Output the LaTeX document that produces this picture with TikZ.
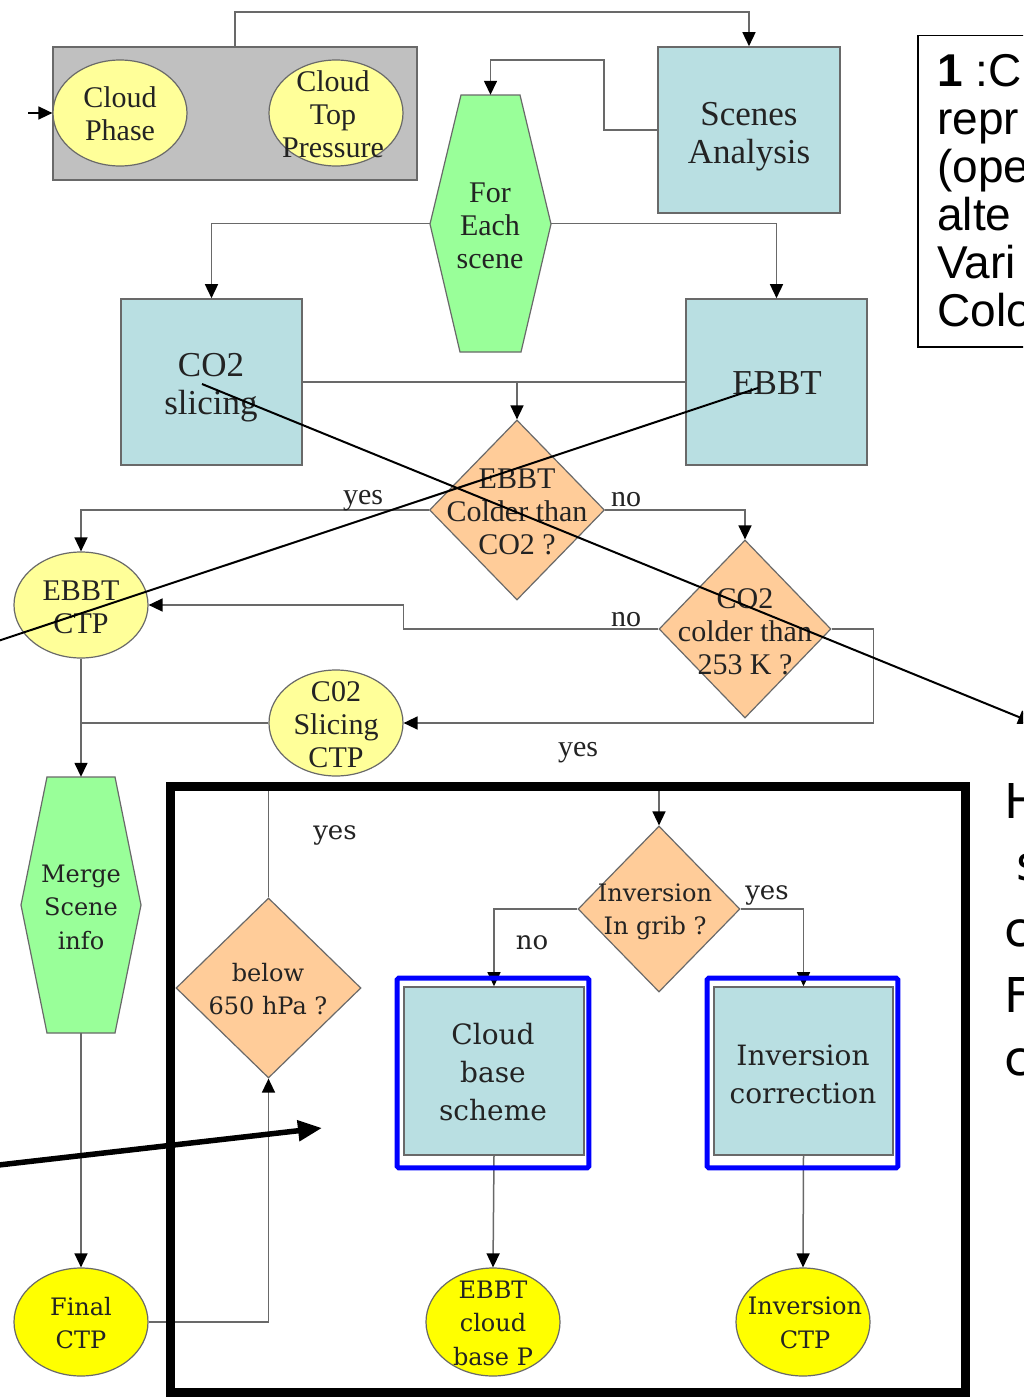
\documentclass[tikz,border=0pt]{standalone}
\usepackage{fontspec}
\setmainfont{Liberation Serif}
\newfontfamily\serifb{DejaVu Serif}
\newfontfamily\sansa{Liberation Sans}
\newfontfamily\sansb{DejaVu Sans}
\usetikzlibrary{shapes.geometric,arrows.meta,calc}

\definecolor{boxblue}{RGB}{185,223,226}
\definecolor{paleyel}{RGB}{255,255,153}
\definecolor{brightyel}{RGB}{255,255,0}
\definecolor{hexgreen}{RGB}{153,255,153}
\definecolor{diaorange}{RGB}{255,204,153}
\definecolor{grpgray}{RGB}{192,192,192}
\definecolor{edgegray}{RGB}{105,105,105}
\definecolor{txtdark}{RGB}{35,35,35}

\tikzset{
  procbox/.style={rectangle, draw=edgegray, fill=boxblue, line width=1.6pt, inner sep=0pt},
  proctext/.style={align=center, text=txtdark, inner sep=0pt, font={\fontsize{35}{38}\selectfont}},
  lowproctext/.style={proctext, font={\serifb\fontsize{28}{38}\selectfont}},
  oval/.style={ellipse, draw=edgegray, fill=paleyel, line width=1.2pt, inner sep=0pt,
    minimum width=134pt, minimum height=106pt},
  brightoval/.style={oval, fill=brightyel, minimum height=108pt},
  decision/.style={diamond, draw=edgegray, fill=diaorange, line width=1.2pt, inner sep=0pt},
  hexpath/.style={draw=edgegray, fill=hexgreen, line width=1.2pt},
  shapetext/.style={align=center, text=txtdark, inner sep=0pt, font={\fontsize{30}{33}\selectfont}},
  lowtext/.style={shapetext, font={\serifb\fontsize{24}{33.5}\selectfont}},
  lbl/.style={text=txtdark, inner sep=0pt, font={\fontsize{30}{34}\selectfont}},
  lowlbl/.style={text=txtdark, inner sep=0pt, font={\serifb\fontsize{26}{30}\selectfont}},
  conn/.style={draw=edgegray, line width=1.5pt, -{Triangle[length=14pt,width=13pt,color=black]}},
  link/.style={draw=edgegray, line width=1.5pt},
  annot/.style={draw=black, line width=2pt},
  blueframe/.style={draw=blue, line width=5pt, rounded corners=1.5pt},
  notefont/.style={anchor=base west, inner sep=0pt, font={\sansa\fontsize{46}{48}\selectfont}},
  sidefont/.style={anchor=base west, inner sep=0pt, font={\sansb\fontsize{48}{60}\selectfont}}
}

\begin{document}
\begin{tikzpicture}[x=1pt,y=-1pt]
\fill[white] (0,0) rectangle (1023,1397);
\begin{scope}
\clip (0,0) rectangle (1023,1397);

% ---- input group: cloud phase and cloud top pressure
\node[rectangle, draw=edgegray, fill=grpgray, line width=1.5pt, minimum width=364pt,
      minimum height=133pt, inner sep=0pt] (grp) at (235,113.5) {};
\node[oval] (cp) at (120,113) {};
\node[shapetext] (cpt) at (120,114) {Cloud\\Phase};
\node[oval] (ctp) at (336,113) {};
\node[shapetext] (ctpt) at (333,114) {Cloud\\Top\\Pressure};
\coordinate (in) at (28,113);

% ---- scenes
\node[procbox, minimum width=182pt, minimum height=166pt] (scenes) at (749,130) {};
\node[proctext] (scenest) at (749,137) {Scenes\\Analysis};
\path[hexpath] (430,224) -- (461,95) -- (520,95) -- (551,224) -- (521,352) -- (460,352) -- cycle;
\node[minimum width=121pt, minimum height=257pt, inner sep=0pt] (each) at (490.5,223.5) {};
\node[shapetext] (eacht) at (490,226) {For\\Each\\scene};

% ---- CO2 slicing and EBBT
\node[procbox, minimum width=181pt, minimum height=166pt] (co2) at (211.5,382) {};
\node[proctext] (co2t) at (211,387.5) {CO2\\slicing};
\node[procbox, minimum width=181pt, minimum height=166pt] (ebbt) at (776.5,382) {};
\node[proctext] (ebbtt) at (777,383) {EBBT};

% ---- decisions
\node[decision, minimum width=175pt, minimum height=180pt] (d1) at (517,510) {};
\node[shapetext] (d1t) at (517,512) {EBBT\\Colder than\\CO2 ?};
\node[decision, minimum width=172pt, minimum height=178pt] (d2) at (745,629) {};
\node[shapetext] (d2t) at (745,632) {CO2\\colder than\\253 K ?};

% ---- intermediate results
\node[oval] (ecpt) at (81,605) {};
\node[shapetext] (ecptt) at (81,607) {EBBT\\CTP};
\node[oval] (cs) at (336,723) {};
\node[shapetext] (cst) at (336,725) {C02\\Slicing\\CTP};

% ---- merge and final
\path[hexpath] (21,905) -- (47,777) -- (115,777) -- (141,905) -- (115,1033) -- (47,1033) -- cycle;
\node[minimum width=120pt, minimum height=256pt, inner sep=0pt] (merge) at (81,905) {};
\node[lowtext] (merget) at (81,907) {Merge\\Scene\\info};
\node[brightoval] (final) at (81,1322) {};
\node[lowtext] (finalt) at (81,1323) {Final\\CTP};

% ---- cloud base / inversion part
\node[decision, minimum width=185pt, minimum height=180pt] (below) at (268.5,988) {};
\node[lowtext] (belowt) at (268,989) {below\\650 hPa ?};
\node[decision, minimum width=162pt, minimum height=166pt] (inv) at (659,909) {};
\node[lowtext] (invt) at (655,912) {Inversion\\In grib ?};
\node[procbox, minimum width=180pt, minimum height=168pt] (cb) at (494,1071) {};
\node[lowproctext] (cbt) at (493,1072) {Cloud\\base\\scheme};
\node[procbox, minimum width=179pt, minimum height=168pt] (ic) at (803.5,1071) {};
\node[lowproctext] (ict) at (803,1074) {Inversion\\correction};
\node[brightoval] (ebp) at (493,1322) {};
\node[lowtext] (ebpt) at (493,1323) {EBBT\\cloud\\base P};
\node[brightoval] (ictp) at (803,1322) {};
\node[lowtext] (ictpt) at (805,1323) {Inversion\\CTP};

% ---- connectors
\draw[conn, draw=black] (in) -- (cp.west);
\draw[conn] (grp.north) -- ++(0,-34) -| (scenes.north);
\draw[conn] (scenes.west) -- ++(-53,0) -- ++(0,-70) -| (each.north);
\draw[conn] (each.west) -| (co2.north);
\draw[conn] (each.east) -| (ebbt.north);
\draw[link] (co2.east) -- (ebbt.west);
\draw[conn] (co2.east -| d1.north) -- (d1.north);
\draw[conn] (d1.west) -| (ecpt.north);
\draw[conn] (d1.east) -| (d2.north);
\draw[conn] (d2.west) -- ++(-255,0) |- (ecpt.east);
\draw[conn] (d2.east) -- ++(42,0) |- (cs.east);
\draw[link] (cs.west) -- (cs.west -| ecpt.south);
\draw[conn] (ecpt.south) -- (merge.north);
\draw[conn] (merge.south) -- (final.north);
\draw[conn] (final.east) -| (below.south);
\draw[conn] (below.north) -- ++(0,-108) -| (inv.north);
\draw[conn] (inv.west) -| (cb.north);
\draw[conn] (inv.east) -| (ic.north);
\draw[conn] (cb.south) -- (ebp.north);
\draw[conn] (ic.south) -- (ictp.north);

% ---- branch labels
\node[lbl] (y1) at (363,501) {yes};
\node[lbl] (n1) at (626,500) {no};
\node[lbl] (n2) at (626,620) {no};
\node[lbl] (y2) at (578,753) {yes};
\node[lowlbl] (y3) at (335,835) {yes};
\node[lowlbl] (n3) at (532,943) {no};
\node[lowlbl] (y4) at (767,895) {yes};

% ---- highlight frames
\draw[blueframe] ([shift={(-6,-8)}]cb.north west) rectangle ([shift={(4,12)}]cb.south east);
\draw[blueframe] ([shift={(-6,-8)}]ic.north west) rectangle ([shift={(4,12)}]ic.south east);
\draw[draw=black, line width=9pt] (170,786) rectangle (965,1392);

% ---- note box at top right
\node[draw=black, line width=1.5pt, minimum width=130pt, minimum height=311pt,
      anchor=north west, inner sep=0pt] (note) at (917,35) {};
\node[notefont] (l1) at (937,86) {\textbf{1} :C};
\node[notefont] (l2) at (937,134) {repr};
\node[notefont] (l3) at (937,182) {(ope};
\node[notefont] (l4) at (937,230) {alte};
\node[notefont] (l5) at (937,278) {Vari};
\node[notefont] (l6) at (937,326) {Colo};

% ---- side text at bottom right
\node[sidefont] (s1) at (1004,818) {H};
\node[sidefont] (s2) at (1016,880) {s};
\node[sidefont] (s3) at (1004,946) {c};
\node[sidefont] (s4) at (1004,1012) {F};
\node[sidefont] (s5) at (1004,1075) {c};

% ---- pointer lines
\coordinate (pa) at (202,384);
\coordinate (pae) at (1036,724);
\draw[annot, -{Triangle[length=18pt,width=14pt]}] (pa) -- (pae);
\coordinate (pb) at (758,388);
\coordinate (pbe) at (-20,647);
\draw[annot] (pb) -- (pbe);
\coordinate (pc) at (-10,1166);
\coordinate (pce) at (322,1128);
\draw[draw=black, line width=5.5pt, -{Triangle[length=24pt,width=20pt]}] (pc) -- (pce);
\end{scope}
\pgfresetboundingbox
\path[use as bounding box] (0,0) rectangle (1023,1397);
\end{tikzpicture}
\end{document}
